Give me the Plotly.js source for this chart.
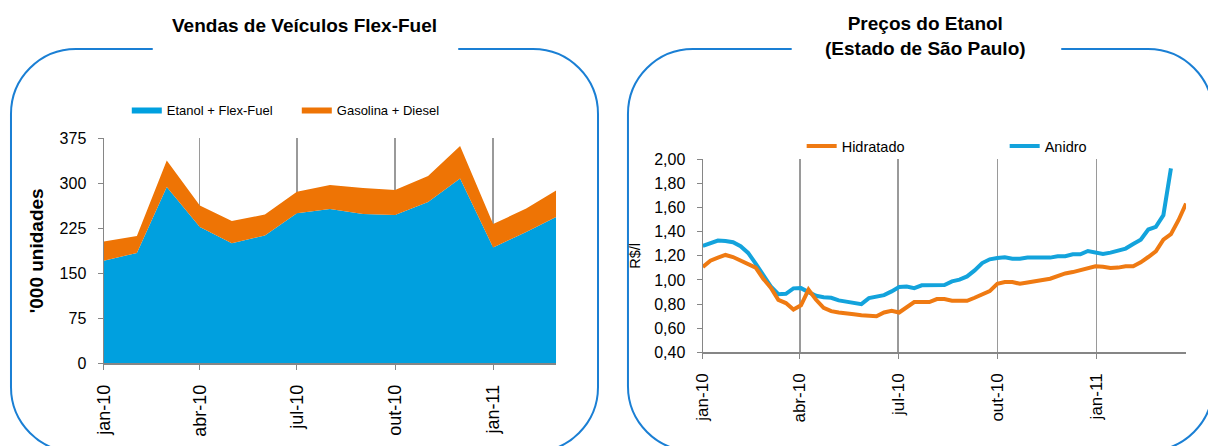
<!DOCTYPE html>
<html>
<head>
<meta charset="utf-8">
<script src="https://cdn.plot.ly/plotly-3.0.1.min.js"></script>
<style>
html, body { margin: 0; padding: 0; background: #ffffff; }
#chart { width: 1208px; height: 446px; }
</style>
</head>
<body>
<div id="chart"></div>
<script>
// ---------- Left chart: Vendas de Veículos Flex-Fuel ('000 unidades) ----------
const salesMonths = ['2010-01-01','2010-02-01','2010-03-01','2010-04-01','2010-05-01','2010-06-01',
  '2010-07-01','2010-08-01','2010-09-01','2010-10-01','2010-11-01','2010-12-01',
  '2011-01-01','2011-02-01','2011-03-01'];
const etanolFlexFuel = [171, 184, 294, 227, 200, 213, 250, 257, 249, 247, 269, 308, 193, 219, 244];
const gasolinaDiesel = [32, 28, 44, 36, 37, 35, 36, 40, 43, 42, 43, 54, 39, 39, 44];

// ---------- Right chart: Preços do Etanol (R$/l), weekly ----------
const priceWeeks = ['2010-01-01','2010-01-08','2010-01-15','2010-01-22','2010-01-29',
  '2010-02-05','2010-02-12','2010-02-19','2010-02-26',
  '2010-03-05','2010-03-12','2010-03-19','2010-03-26',
  '2010-04-02','2010-04-09','2010-04-16','2010-04-23','2010-04-30',
  '2010-05-07','2010-05-14','2010-05-21','2010-05-28',
  '2010-06-04','2010-06-11','2010-06-18','2010-06-25',
  '2010-07-02','2010-07-09','2010-07-16','2010-07-23','2010-07-30',
  '2010-08-06','2010-08-13','2010-08-20','2010-08-27',
  '2010-09-03','2010-09-10','2010-09-17','2010-09-24',
  '2010-10-01','2010-10-08','2010-10-15','2010-10-22','2010-10-29',
  '2010-11-05','2010-11-12','2010-11-19','2010-11-26',
  '2010-12-03','2010-12-10','2010-12-17','2010-12-24','2010-12-31',
  '2011-01-07','2011-01-14','2011-01-21','2011-01-28',
  '2011-02-04','2011-02-11','2011-02-18','2011-02-25',
  '2011-03-04','2011-03-11','2011-03-18','2011-03-25'];
const hidratado = [1.107, 1.160, 1.185, 1.207, 1.190, 1.163, 1.135, 1.102, 1.010, 0.935,
  0.835, 0.808, 0.755, 0.790, 0.919, 0.835, 0.769, 0.741, 0.730, 0.719,
  0.716, 0.708, 0.702, 0.699, 0.730, 0.744, 0.730, 0.774, 0.816, 0.816,
  0.816, 0.841, 0.841, 0.827, 0.827, 0.827, 0.852, 0.877, 0.907, 0.968,
  0.982, 0.982, 0.968, 0.979, 0.985, 0.999, 1.010, 1.035, 1.054, 1.065,
  1.079, 1.096, 1.113, 1.110, 1.099, 1.102, 1.113, 1.113, 1.146, 1.190,
  1.237, 1.334, 1.379, 1.495, 1.634];
const anidro = [1.282, 1.301, 1.326, 1.323, 1.312, 1.279, 1.224, 1.135, 1.038, 0.946,
  0.882, 0.885, 0.930, 0.932, 0.899, 0.869, 0.857, 0.852, 0.830, 0.819,
  0.808, 0.799, 0.849, 0.863, 0.874, 0.905, 0.941, 0.946, 0.932, 0.955,
  0.957, 0.957, 0.957, 0.988, 1.002, 1.029, 1.079, 1.140, 1.171, 1.182,
  1.187, 1.176, 1.176, 1.185, 1.185, 1.185, 1.185, 1.196, 1.196, 1.212,
  1.212, 1.240, 1.226, 1.215, 1.226, 1.240, 1.260, 1.298, 1.334, 1.418,
  1.440, 1.537, 1.925];

// ---------- Shared tick labels ----------
const quarterTickVals = ['2010-01-01','2010-04-01','2010-07-01','2010-10-01','2011-01-01'];
const quarterTickText = ['jan-10','abr-10','jul-10','out-10','jan-11'];

// ---------- Layout helpers (pixel -> paper, margins are zero) ----------
const W = 1208, H = 446;
const px = x => x / W;
const py = y => 1 - y / H;
function P(x, y) { return px(x).toFixed(5) + ',' + py(y).toFixed(5); }
function panelPath(L, T, R, B, r, gapStart, gapEnd) {
  const k = 0.5523 * r;
  return 'M' + P(gapEnd, T) +
    ' L' + P(R - r, T) +
    ' C' + P(R - r + k, T) + ' ' + P(R, T + r - k) + ' ' + P(R, T + r) +
    ' L' + P(R, B - r) +
    ' C' + P(R, B - r + k) + ' ' + P(R - r + k, B) + ' ' + P(R - r, B) +
    ' L' + P(L + r, B) +
    ' C' + P(L + r - k, B) + ' ' + P(L, B - r + k) + ' ' + P(L, B - r) +
    ' L' + P(L, T + r) +
    ' C' + P(L, T + r - k) + ' ' + P(L + r - k, T) + ' ' + P(L + r, T) +
    ' L' + P(gapStart, T);
}

const FONT = 'Liberation Sans, Arial, Helvetica, sans-serif';
const AXIS_GRAY = '#868686';
const GRID_GRAY = '#9a9a9a';
const PANEL_BLUE = '#1A7FD4';

const traces = [
  {
    x: salesMonths, y: etanolFlexFuel, name: 'Etanol + Flex-Fuel',
    type: 'scatter', mode: 'lines', stackgroup: 'vendas',
    line: { width: 0, color: '#00A0DF' }, fillcolor: '#00A0DF',
    xaxis: 'x', yaxis: 'y', legend: 'legend', hoverinfo: 'skip'
  },
  {
    x: salesMonths, y: gasolinaDiesel, name: 'Gasolina + Diesel',
    type: 'scatter', mode: 'lines', stackgroup: 'vendas',
    line: { width: 0, color: '#EE7405' }, fillcolor: '#EE7405',
    xaxis: 'x', yaxis: 'y', legend: 'legend', hoverinfo: 'skip'
  },
  {
    x: priceWeeks.slice(0, anidro.length), y: anidro, name: 'Anidro',
    type: 'scatter', mode: 'lines', line: { width: 4, color: '#13A3DC' },
    xaxis: 'x2', yaxis: 'y2', legend: 'legend2', legendrank: 2, hoverinfo: 'skip'
  },
  {
    x: priceWeeks, y: hidratado, name: 'Hidratado',
    type: 'scatter', mode: 'lines', line: { width: 4, color: '#EF7A12' },
    xaxis: 'x2', yaxis: 'y2', legend: 'legend2', legendrank: 1, hoverinfo: 'skip'
  }
];

const commonX = {
  type: 'date', tickmode: 'array', tickvals: quarterTickVals, ticktext: quarterTickText,
  tickangle: -90, ticks: 'outside', ticklen: 5, tickcolor: AXIS_GRAY,
  showline: true, linecolor: AXIS_GRAY, linewidth: 1.3,
  showgrid: true, gridcolor: GRID_GRAY, gridwidth: 1.3,
  zeroline: false, fixedrange: true, automargin: false, ticklabelstandoff: 8
};

const layout = {
  width: W, height: H,
  margin: { l: 0, r: 0, t: 0, b: 0, pad: 0 },
  paper_bgcolor: '#ffffff', plot_bgcolor: 'rgba(0,0,0,0)',
  separators: ',.',
  font: { family: FONT, color: '#000000' },
  showlegend: true,
  xaxis: Object.assign({}, commonX, {
    domain: [px(104), px(557)], anchor: 'y',
    range: ['2010-01-01', '2011-03-01'],
    tickfont: { family: FONT, size: 18, color: '#000' }
  }),
  yaxis: {
    domain: [py(363.3), py(138.3)], anchor: 'x',
    range: [0, 375], tickmode: 'linear', tick0: 0, dtick: 75,
    ticks: 'outside', ticklen: 5, tickcolor: AXIS_GRAY,
    showline: true, linecolor: AXIS_GRAY, linewidth: 1.3,
    showgrid: false, zeroline: false, fixedrange: true, automargin: false,
    ticklabelstandoff: 8,
    tickfont: { family: FONT, size: 16, color: '#000' },
    title: { text: "<b>'000 unidades</b>", font: { family: FONT, size: 19, color: '#000' }, standoff: 11 }
  },
  xaxis2: Object.assign({}, commonX, {
    domain: [px(704), px(1188)], anchor: 'y2',
    range: ['2010-01-01', '2011-03-25'],
    tickfont: { family: FONT, size: 17, color: '#000' }
  }),
  yaxis2: {
    domain: [py(352.3), py(159.3)], anchor: 'x2',
    range: [0.4, 2.0], tickmode: 'linear', tick0: 0.4, dtick: 0.2, tickformat: '.2f',
    ticks: 'outside', ticklen: 5, tickcolor: AXIS_GRAY,
    showline: true, linecolor: AXIS_GRAY, linewidth: 1.3,
    showgrid: false, zeroline: false, fixedrange: true, automargin: false,
    ticklabelstandoff: 8,
    tickfont: { family: FONT, size: 16, color: '#000' },
    title: { text: 'R$/l', font: { family: FONT, size: 14.5, color: '#000' }, standoff: 10 }
  },
  legend: {
    orientation: 'h', x: px(127), xanchor: 'left', y: py(109.5), yanchor: 'middle',
    traceorder: 'normal', entrywidth: 125, entrywidthmode: 'pixels',
    font: { family: FONT, size: 13, color: '#000' }, bgcolor: 'rgba(0,0,0,0)', borderwidth: 0
  },
  legend2: {
    orientation: 'h', x: px(803), xanchor: 'left', y: py(146), yanchor: 'middle',
    traceorder: 'normal', entrywidth: 158, entrywidthmode: 'pixels',
    font: { family: FONT, size: 14.5, color: '#000' }, bgcolor: 'rgba(0,0,0,0)', borderwidth: 0
  },
  shapes: [
    { type: 'path', xref: 'paper', yref: 'paper', layer: 'below',
      path: panelPath(11, 49, 599, 452, 65, 153, 459),
      line: { color: PANEL_BLUE, width: 2 }, fillcolor: 'rgba(0,0,0,0)' },
    { type: 'path', xref: 'paper', yref: 'paper', layer: 'below',
      path: panelPath(629, 49, 1215, 451, 65, 793, 1063),
      line: { color: PANEL_BLUE, width: 2 }, fillcolor: 'rgba(0,0,0,0)' }
  ],
  annotations: [
    { xref: 'paper', yref: 'paper', x: px(305), y: py(25), xanchor: 'center', yanchor: 'middle',
      showarrow: false, text: '<b>Vendas de Veículos Flex-Fuel</b>',
      font: { family: FONT, size: 19, color: '#000' } },
    { xref: 'paper', yref: 'paper', x: px(927), y: py(36), xanchor: 'center', yanchor: 'middle',
      showarrow: false, text: '<b>Preços do Etanol<br>(Estado de São Paulo)</b>',
      font: { family: FONT, size: 19, color: '#000' } }
  ]
};

Plotly.newPlot('chart', traces, layout, { displayModeBar: false, staticPlot: true, responsive: false });
</script>
</body>
</html>
